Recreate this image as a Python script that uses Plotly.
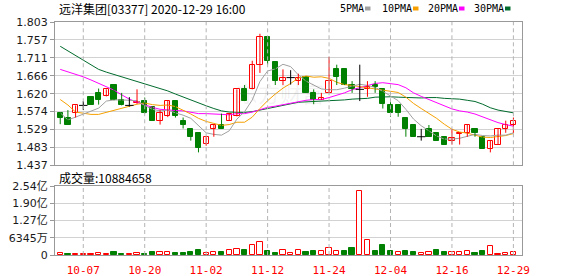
import plotly.graph_objects as go

# ---------------- data ----------------
dates = ["09-30", "10-05", "10-06", "10-07", "10-08", "10-09", "10-12", "10-14", "10-15", "10-16",
         "10-19", "10-20", "10-21", "10-22", "10-23", "10-27", "10-28", "10-29", "10-30", "11-02",
         "11-03", "11-04", "11-05", "11-06", "11-09", "11-10", "11-11", "11-12", "11-13", "11-16",
         "11-17", "11-18", "11-19", "11-20", "11-23", "11-24", "11-25", "11-26", "11-27", "11-30",
         "12-01", "12-02", "12-03", "12-04", "12-07", "12-08", "12-09", "12-10", "12-11", "12-14",
         "12-15", "12-16", "12-17", "12-18", "12-21", "12-22", "12-23", "12-24", "12-28", "12-29"]

opens = [1.570, 1.559, 1.571, 1.590, 1.611, 1.622, 1.613, 1.642, 1.603, 1.590,
         1.596, 1.601, 1.585, 1.551, 1.562, 1.601, 1.551, 1.530, 1.519, 1.491,
         1.530, 1.540, 1.551, 1.562, 1.631, 1.631, 1.694, 1.764, 1.702, 1.653,
         1.661, 1.653, 1.663, 1.622, 1.604, 1.622, 1.682, 1.682, 1.642, 1.631,
         1.631, 1.642, 1.631, 1.591, 1.591, 1.559, 1.540, 1.510, 1.530, 1.519,
         1.510, 1.500, 1.518, 1.520, 1.530, 1.510, 1.479, 1.490, 1.530, 1.540]
highs = [1.572, 1.578, 1.590, 1.601, 1.611, 1.633, 1.631, 1.642, 1.622, 1.611,
         1.631, 1.610, 1.587, 1.578, 1.601, 1.601, 1.559, 1.530, 1.519, 1.509,
         1.540, 1.569, 1.570, 1.631, 1.642, 1.704, 1.773, 1.764, 1.702, 1.682,
         1.680, 1.671, 1.663, 1.631, 1.622, 1.714, 1.694, 1.682, 1.652, 1.694,
         1.652, 1.652, 1.631, 1.601, 1.591, 1.559, 1.540, 1.530, 1.540, 1.519,
         1.510, 1.530, 1.520, 1.540, 1.530, 1.510, 1.500, 1.530, 1.551, 1.559]
lows = [1.542, 1.541, 1.559, 1.578, 1.592, 1.592, 1.613, 1.603, 1.590, 1.587,
        1.594, 1.569, 1.551, 1.541, 1.560, 1.559, 1.531, 1.500, 1.470, 1.487,
        1.510, 1.530, 1.551, 1.562, 1.601, 1.631, 1.673, 1.694, 1.642, 1.642,
        1.643, 1.642, 1.622, 1.593, 1.604, 1.622, 1.642, 1.642, 1.622, 1.601,
        1.612, 1.622, 1.582, 1.561, 1.561, 1.510, 1.510, 1.500, 1.510, 1.500,
        1.490, 1.490, 1.490, 1.510, 1.510, 1.479, 1.470, 1.490, 1.520, 1.520]
closes = [1.559, 1.541, 1.590, 1.590, 1.592, 1.603, 1.631, 1.603, 1.590, 1.590,
          1.598, 1.571, 1.551, 1.571, 1.601, 1.562, 1.541, 1.509, 1.480, 1.509,
          1.540, 1.530, 1.567, 1.631, 1.601, 1.692, 1.764, 1.704, 1.653, 1.661,
          1.661, 1.661, 1.622, 1.604, 1.610, 1.652, 1.663, 1.642, 1.631, 1.631,
          1.638, 1.636, 1.593, 1.571, 1.571, 1.530, 1.510, 1.510, 1.510, 1.500,
          1.490, 1.508, 1.520, 1.540, 1.520, 1.479, 1.500, 1.530, 1.540, 1.550]
prev_close = 1.550  # close of the day before the first visible candle

volumes = [7e6, 4e6, 4e6, 4e6, 4e6, 7e6, 4e6, 11e6, 4e6, 4e6,
           7e6, 4e6, 11e6, 11e6, 11e6, 8e6, 8e6, 11e6, 18e6, 7e6,
           11e6, 11e6, 18e6, 22e6, 18e6, 36e6, 48e6, 15e6, 7e6, 18e6,
           7e6, 18e6, 11e6, 15e6, 15e6, 26e6, 15e6, 15e6, 26e6, 235e6,
           55e6, 15e6, 37e6, 15e6, 11e6, 15e6, 11e6, 7e6, 11e6, 18e6,
           11e6, 11e6, 11e6, 15e6, 7e6, 15e6, 32e6, 4e6, 6e6, 10884658]

ma5 = [1.571, 1.553, 1.560, 1.567, 1.574, 1.583, 1.601, 1.604, 1.604, 1.603,
       1.602, 1.590, 1.580, 1.576, 1.578, 1.571, 1.565, 1.557, 1.539, 1.520,
       1.516, 1.514, 1.525, 1.555, 1.574, 1.604, 1.651, 1.678, 1.683, 1.695,
       1.689, 1.668, 1.652, 1.642, 1.632, 1.630, 1.630, 1.634, 1.640, 1.644,
       1.641, 1.636, 1.626, 1.614, 1.602, 1.580, 1.555, 1.538, 1.526, 1.512,
       1.504, 1.504, 1.506, 1.512, 1.516, 1.513, 1.512, 1.514, 1.514, 1.520]
ma10 = [1.605, 1.591, 1.573, 1.570, 1.567, 1.567, 1.572, 1.578, 1.584, 1.589,
        1.593, 1.596, 1.592, 1.590, 1.591, 1.587, 1.578, 1.568, 1.557, 1.549,
        1.544, 1.539, 1.541, 1.547, 1.547, 1.560, 1.582, 1.602, 1.619, 1.634,
        1.646, 1.660, 1.665, 1.662, 1.663, 1.659, 1.649, 1.643, 1.641, 1.638,
        1.635, 1.633, 1.630, 1.627, 1.623, 1.611, 1.595, 1.582, 1.570, 1.557,
        1.542, 1.529, 1.522, 1.519, 1.514, 1.509, 1.508, 1.510, 1.513, 1.518]
ma20 = [1.682, 1.676, 1.669, 1.663, 1.655, 1.646, 1.638, 1.629, 1.617, 1.606,
        1.598, 1.591, 1.585, 1.580, 1.578, 1.577, 1.576, 1.572, 1.569, 1.569,
        1.568, 1.568, 1.566, 1.569, 1.569, 1.573, 1.580, 1.585, 1.588, 1.592,
        1.595, 1.599, 1.603, 1.605, 1.605, 1.610, 1.616, 1.622, 1.630, 1.636,
        1.641, 1.646, 1.648, 1.645, 1.643, 1.635, 1.622, 1.613, 1.605, 1.597,
        1.589, 1.581, 1.576, 1.573, 1.568, 1.560, 1.552, 1.546, 1.541, 1.537]
ma30 = [1.741, 1.729, 1.717, 1.705, 1.692, 1.682, 1.675, 1.669, 1.663, 1.657,
        1.651, 1.646, 1.640, 1.633, 1.627, 1.619, 1.611, 1.603, 1.596, 1.589,
        1.582, 1.576, 1.573, 1.572, 1.572, 1.574, 1.578, 1.582, 1.586, 1.591,
        1.594, 1.598, 1.599, 1.600, 1.600, 1.602, 1.603, 1.604, 1.606, 1.607,
        1.608, 1.611, 1.612, 1.612, 1.611, 1.610, 1.609, 1.609, 1.610, 1.610,
        1.608, 1.607, 1.606, 1.603, 1.600, 1.593, 1.584, 1.578, 1.574, 1.571]

tick_dates = ["10-07", "10-20", "11-02", "11-12", "11-24", "12-04", "12-16", "12-29"]
price_ticks = [1.437, 1.48275, 1.5285, 1.57425, 1.620, 1.66575, 1.7115, 1.75725, 1.803]
price_tick_text = ["1.437", "1.483", "1.529", "1.574", "1.620", "1.666", "1.711", "1.757", "1.803"]
vol_ticks = [0, 6.345e7, 1.269e8, 1.9035e8, 2.538e8]
vol_tick_text = ["0", "6345万", "1.27亿", "1.90亿", "2.54亿"]
title_text = "远洋集团[03377] 2020-12-29 16:00"
vol_label = "成交量:10884658"
ma_names = ["5PMA", "10PMA", "20PMA", "30PMA"]

# ---------------- styling ----------------
RED = "#ff0000"
GREEN = "#008000"
BLACK = "#000000"
MA_COLORS = ["#a0a0a0", "#f5a000", "#ff00ff", "#006b2d"]
GRID = "#d2d2d2"
VGRID = "#b4b4b4"
BORDER = "#999999"
TICKFONT = dict(family="DejaVu Sans, Noto Sans CJK SC", size=11, color="#1a1a1a")

n = len(dates)
xs = list(range(n))
tick_idx = [dates.index(d) for d in tick_dates]

up = [i for i in xs if closes[i] > opens[i]]
down = [i for i in xs if closes[i] < opens[i]]
doji = [i for i in xs if closes[i] == opens[i]]

fig = go.Figure()


def wick(idx, color):
    wx, wy = [], []
    for i in idx:
        wx += [i, i, None]
        wy += [lows[i], highs[i], None]
    return go.Scatter(x=wx, y=wy, mode="lines", line=dict(color=color, width=1),
                      hoverinfo="skip", showlegend=False, xaxis="x", yaxis="y")


# MA lines (under candles)
for vals, col in zip([ma30, ma20, ma10, ma5], MA_COLORS[::-1]):
    fig.add_trace(go.Scatter(x=xs, y=vals, mode="lines", line=dict(color=col, width=1),
                             showlegend=False, hoverinfo="skip", xaxis="x", yaxis="y"))

fig.add_trace(wick(up, RED))
fig.add_trace(wick(down, GREEN))
fig.add_trace(wick(doji, BLACK))

BODY_W = 0.68
fig.add_trace(go.Bar(x=up, base=[opens[i] for i in up], y=[closes[i] - opens[i] for i in up],
                     width=BODY_W, marker=dict(color="white", line=dict(color=RED, width=1)),
                     showlegend=False, hoverinfo="skip", xaxis="x", yaxis="y"))
fig.add_trace(go.Bar(x=down, base=[closes[i] for i in down], y=[opens[i] - closes[i] for i in down],
                     width=BODY_W, marker=dict(color=GREEN, line=dict(color=GREEN, width=1)),
                     showlegend=False, hoverinfo="skip", xaxis="x", yaxis="y"))
fig.add_trace(go.Scatter(x=doji, y=[closes[i] for i in doji], mode="markers",
                         marker=dict(symbol="line-ew", size=6, line=dict(color=BLACK, width=1)),
                         showlegend=False, hoverinfo="skip", xaxis="x", yaxis="y"))

# volume
prevs = [prev_close] + closes[:-1]
vol_up = [i for i in xs if closes[i] >= prevs[i]]
vol_dn = [i for i in xs if closes[i] < prevs[i]]
fig.add_trace(go.Bar(x=vol_up, y=[volumes[i] for i in vol_up], width=BODY_W,
                     marker=dict(color="white", line=dict(color=RED, width=1)),
                     showlegend=False, hoverinfo="skip", xaxis="x2", yaxis="y2"))
fig.add_trace(go.Bar(x=vol_dn, y=[volumes[i] for i in vol_dn], width=BODY_W,
                     marker=dict(color=GREEN, line=dict(color=GREEN, width=1)),
                     showlegend=False, hoverinfo="skip", xaxis="x2", yaxis="y2"))

# ---------------- layout ----------------
W, H = 578, 276
ML, MR, MT, MB = 55, 56, 22, 21
PW, PH = W - ML - MR, H - MT - MB


def px(xp):
    return (xp - ML) / PW


def py(yp):
    return (H - MB - yp) / PH


xr = [-0.68, 60.12]
common_x = dict(range=xr, tickvals=tick_idx, ticktext=tick_dates, showgrid=False,
                zeroline=False, showline=True, mirror=True, linecolor=BORDER, linewidth=1,
                ticks="", automargin=False)
common_y = dict(showgrid=True, gridcolor=GRID, gridwidth=1, zeroline=False, showline=True,
                mirror=True, linecolor=BORDER, linewidth=1, ticks="outside", ticklen=4,
                tickcolor=BORDER, tickfont=TICKFONT, automargin=False)

fig.update_layout(
    width=W, height=H, margin=dict(l=ML, r=MR, t=MT, b=MB, pad=0, autoexpand=False),
    plot_bgcolor="rgba(0,0,0,0)", paper_bgcolor="white", barmode="overlay", bargap=0,
    showlegend=False, hovermode=False,
    xaxis=dict(domain=[0, 1], anchor="y", showticklabels=False, **common_x),
    xaxis2=dict(domain=[0, 1], anchor="y2", matches="x", showticklabels=True,
                ticklabelstandoff=5,
                tickfont=dict(family="DejaVu Sans Mono", size=11, color=RED), **common_x),
    yaxis=dict(domain=[py(165.3), 1], range=[price_ticks[0], price_ticks[-1]],
               tickvals=price_ticks, ticktext=price_tick_text, **common_y),
    yaxis2=dict(domain=[0, py(186)], range=[vol_ticks[0], vol_ticks[-1]],
                tickvals=vol_ticks, ticktext=vol_tick_text, **common_y),
)

annotations = [
    dict(text=title_text, x=px(57), y=py(9), xref="paper", yref="paper",
         xanchor="left", yanchor="middle", showarrow=False,
         font=dict(family="Noto Sans CJK SC", size=12, color="#000")),
    dict(text=vol_label, x=px(57), y=py(177), xref="paper", yref="paper",
         xanchor="left", yanchor="middle", showarrow=False,
         font=dict(family="Noto Sans CJK SC", size=12, color="#000")),
    dict(text="东方财富", x=px(280), y=py(92), xref="paper", yref="paper",
         xanchor="center", yanchor="middle", showarrow=False,
         font=dict(family="Noto Sans CJK SC", size=22, color="rgba(120,120,120,0.10)")),
]
shapes = []
# dashed vertical grid lines at the date ticks, in both panes
for t in tick_idx:
    for xref, yref in (("x", "y domain"), ("x2", "y2 domain")):
        shapes.append(dict(type="line", xref=xref, yref=yref, x0=t, x1=t, y0=0, y1=1,
                           layer="above", line=dict(color=VGRID, width=1, dash="4px,3px")))
legend_text_x = [338, 380, 426, 472]
legend_sq_x = [365, 413, 459, 505]
for name, tx, sx, col in zip(ma_names, legend_text_x, legend_sq_x, MA_COLORS):
    annotations.append(dict(text=name, x=px(tx), y=py(9), xref="paper", yref="paper",
                            xanchor="left", yanchor="middle", showarrow=False,
                            font=dict(family="DejaVu Sans Mono", size=10, color="#000")))
    shapes.append(dict(type="rect", xref="paper", yref="paper", x0=px(sx), x1=px(sx + 5.5),
                       y0=py(10.5), y1=py(6.5), fillcolor=col, line=dict(width=0)))
fig.update_layout(annotations=annotations, shapes=shapes)

fig.write_html("out.html")
